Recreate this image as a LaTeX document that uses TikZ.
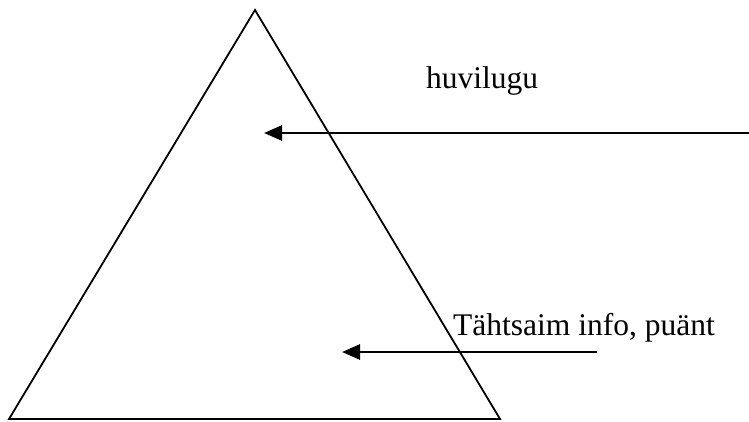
\documentclass[tikz,border=0pt]{standalone}
\usepackage{fontspec}
\setmainfont{Liberation Serif}
\usetikzlibrary{arrows.meta}
\begin{document}
\begin{tikzpicture}[x=1pt,y=-1pt,
  edge/.style={line width=1.8pt, line join=miter},
  pointer/.style={line width=2.7pt, -{Triangle[length=18pt,width=15pt]}},
  label/.style={font=\fontsize{31.5}{36}\selectfont, inner sep=0pt, anchor=base west}]
\useasboundingbox (0,0) rectangle (749,421);
\coordinate (apex) at (255,10);
\coordinate (bl) at (9,419);
\coordinate (br) at (500,419);
\draw[edge] (apex) -- (br) -- (bl) -- cycle;
\node[label] (top) at (426,88) {huvilugu};
\node[label] (bottom) at (453,335) {Tähtsaim info, puänt};
\coordinate (a1s) at (749,133);
\coordinate (a1e) at (264,133);
\coordinate (a2s) at (597,352);
\coordinate (a2e) at (342,352);
\draw[pointer] (a1s) -- (a1e);
\draw[pointer] (a2s) -- (a2e);
\end{tikzpicture}
\end{document}
